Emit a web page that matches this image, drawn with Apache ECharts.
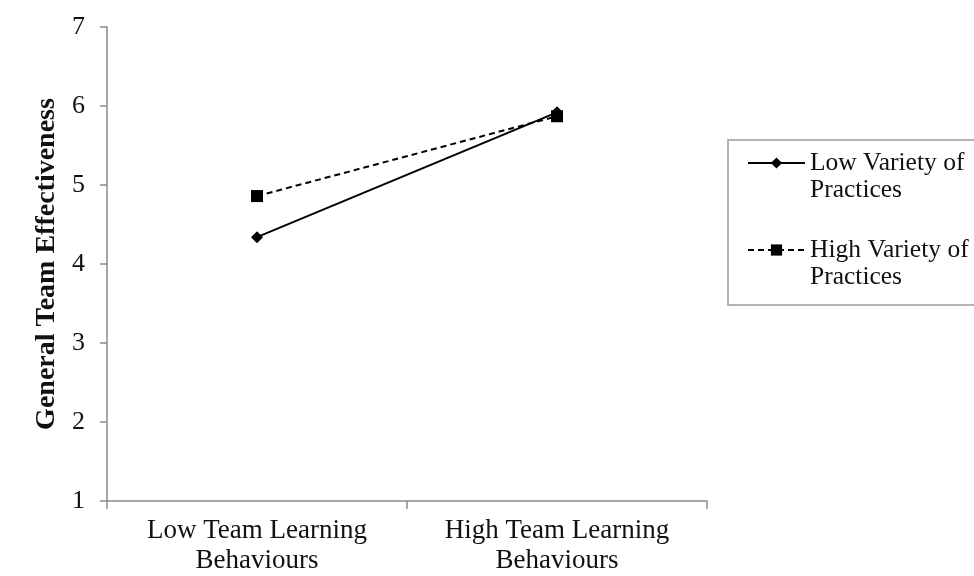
<!DOCTYPE html>
<html>
<head>
<meta charset="utf-8">
<script src="https://cdn.jsdelivr.net/npm/echarts@6/dist/echarts.min.js"></script>
<style>html,body{margin:0;padding:0;background:#fff;}#c{width:974px;height:576px;}</style>
</head>
<body>
<div id="c"></div>
<script>
const categories = ['Low Team Learning\nBehaviours', 'High Team Learning\nBehaviours'];
const lowVariety = [4.34, 5.92];
const highVariety = [4.86, 5.87];
const seriesNames = ['Low Variety of Practices', 'High Variety of Practices'];
const legendLabels = ['Low Variety of\nPractices', 'High Variety of\nPractices'];
const yTitle = 'General Team Effectiveness';

const FONT = '"Liberation Serif", "Times New Roman", serif';
const chart = echarts.init(document.getElementById('c'));
chart.setOption({
  animation: false,
  backgroundColor: '#fff',
  grid: { left: 107, right: 267, top: 27, bottom: 74 },
  graphic: [{
    type: 'rect', shape: { x: 728, y: 140, width: 260, height: 165 },
    style: { fill: 'none', stroke: '#9a9a9a', lineWidth: 1.5 }, z: 0
  }],
  legend: {
    orient: 'vertical', left: 747, top: 122.5, padding: 0, itemGap: 6,
    itemWidth: 57, itemHeight: 14,
    data: seriesNames,
    formatter: function (name) { return '\n' + legendLabels[seriesNames.indexOf(name)]; },
    textStyle: { fontFamily: FONT, fontSize: 25.5, lineHeight: 27, color: '#111' }
  },
  xAxis: {
    type: 'category', data: categories, boundaryGap: true,
    axisLine: { lineStyle: { color: '#8a8a8a', width: 1.5 } },
    axisTick: { show: true, length: 8, lineStyle: { color: '#8a8a8a', width: 1.5 } },
    axisLabel: { fontFamily: FONT, fontSize: 27, lineHeight: 30, color: '#111', margin: 15 }
  },
  yAxis: {
    type: 'value', min: 1, max: 7, interval: 1,
    name: yTitle, nameLocation: 'middle', nameGap: 44, nameRotate: 90,
    nameTextStyle: { fontFamily: FONT, fontSize: 28, fontWeight: 'bold', color: '#111' },
    axisLine: { show: true, lineStyle: { color: '#8a8a8a', width: 1.5 } },
    axisTick: { show: true, length: 7, lineStyle: { color: '#8a8a8a', width: 1.5 } },
    splitLine: { show: false },
    axisLabel: { fontFamily: FONT, fontSize: 26, color: '#111', margin: 22 }
  },
  series: [
    {
      name: seriesNames[0], type: 'line', data: lowVariety,
      symbol: 'diamond', symbolSize: 12,
      itemStyle: { color: '#000' },
      lineStyle: { color: '#000', width: 2, type: 'solid' }
    },
    {
      name: seriesNames[1], type: 'line', data: highVariety,
      symbol: 'rect', symbolSize: 12,
      itemStyle: { color: '#000' },
      lineStyle: { color: '#000', width: 2, type: [6, 4] }
    }
  ]
});
</script>
</body>
</html>
